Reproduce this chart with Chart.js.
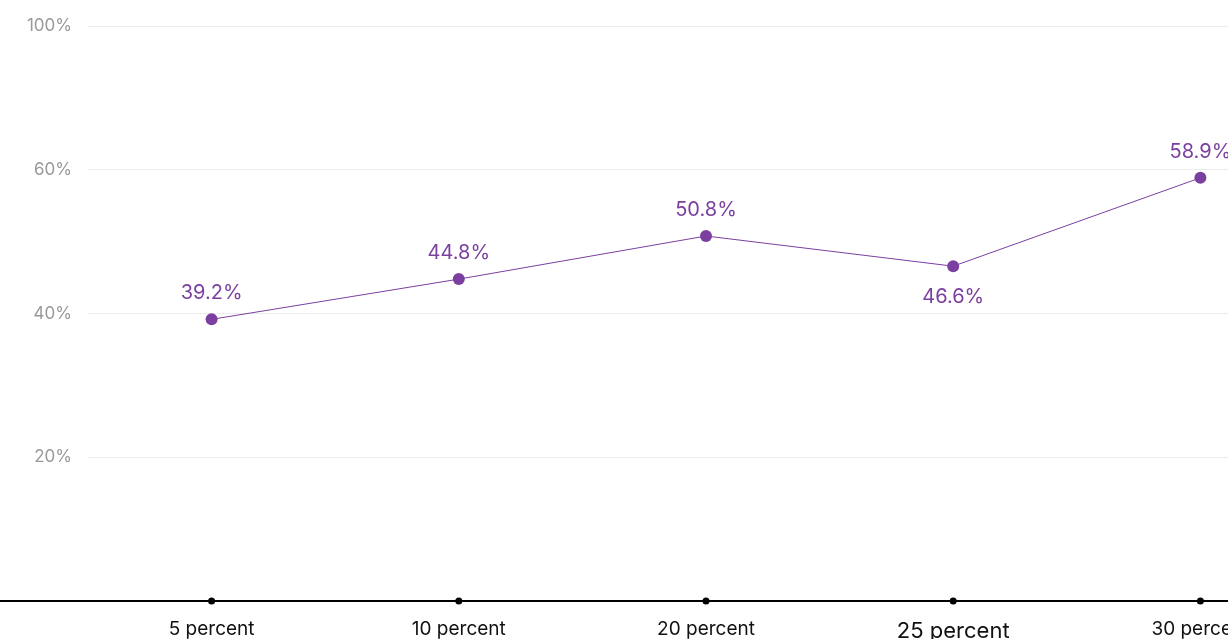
<!DOCTYPE html>
<html>
<head>
<meta charset="utf-8">
<script src="https://cdn.jsdelivr.net/npm/chart.js@4"></script>
<style>
  html, body { margin: 0; padding: 0; background: #fff; overflow: hidden; }
  #wrap { position: relative; width: 1330px; height: 639px; }
</style>
</head>
<body>
<div id="wrap"><canvas id="lineChart"></canvas></div>
<script>
// Chart data
const categories = ['5 percent', '10 percent', '20 percent', '25 percent', '30 percent'];
const shareValues = [39.2, 44.8, 50.8, 46.6, 58.9];
const axisDots = [0, 0, 0, 0, 0];
const yTickValues = [20, 40, 60, 80];
const yTickLabels = ['20%', '40%', '60%', '100%'];
const labelBelow = [false, false, false, true, false];

const purple = '#7b3f9f';

// Labels over each point
const valueLabels = {
    id: 'valueLabels',
    afterDatasetsDraw(chart) {
        const ctx = chart.ctx;
        const meta = chart.getDatasetMeta(0);
        ctx.save();
        ctx.font = '20px Inter, sans-serif';
        ctx.fillStyle = purple;
        ctx.textAlign = 'center';
        ctx.textBaseline = 'middle';
        meta.data.forEach((pt, i) => {
            const dy = labelBelow[i] ? 31 : -26;
            ctx.fillText(shareValues[i].toFixed(1) + '%', pt.x, pt.y + dy);
        });
        ctx.restore();
    }
};

// Black baseline across the whole width
const baseLine = {
    id: 'baseLine',
    beforeDatasetsDraw(chart) {
        const ctx = chart.ctx;
        const y = chart.scales.y.getPixelForValue(0);
        ctx.save();
        ctx.strokeStyle = '#000';
        ctx.lineWidth = 2;
        ctx.beginPath();
        ctx.moveTo(0, y);
        ctx.lineTo(chart.width, y);
        ctx.stroke();
        ctx.restore();
    }
};

const ctx = document.getElementById('lineChart').getContext('2d');
new Chart(ctx, {
    type: 'line',
    data: {
        labels: categories,
        datasets: [{
            data: shareValues,
            borderColor: purple,
            backgroundColor: purple,
            borderWidth: 1,
            pointRadius: 6,
            pointHoverRadius: 6,
            pointBorderWidth: 0,
            tension: 0
        }, {
            data: axisDots,
            showLine: false,
            backgroundColor: '#000',
            borderColor: '#000',
            pointRadius: 3.5,
            pointBorderWidth: 0,
            clip: false
        }]
    },
    options: {
        responsive: true,
        maintainAspectRatio: false,
        animation: false,
        layout: { padding: { top: 25, left: 0, right: 0, bottom: 0 } },
        plugins: {
            legend: { display: false },
            tooltip: { enabled: false }
        },
        scales: {
            x: {
                offset: true,
                grid: { display: false, drawTicks: false },
                border: { display: false },
                ticks: {
                    color: '#111',
                    padding: 17,
                    maxRotation: 0,
                    font: (c) => ({ family: 'Inter, sans-serif', size: c.index === 3 ? 22 : 19 })
                },
                afterFit(scale) { scale.height = 38; }
            },
            y: {
                min: 0,
                max: 80,
                afterBuildTicks(scale) {
                    scale.ticks = yTickValues.map(v => ({ value: v }));
                },
                grid: { color: '#ebebeb', drawTicks: false, lineWidth: 1 },
                border: { display: false },
                ticks: {
                    color: '#999',
                    padding: 16,
                    font: { family: 'Inter, sans-serif', size: 17 },
                    callback: (v) => yTickLabels[yTickValues.indexOf(v)]
                },
                afterFit(scale) { scale.width = 88; }
            }
        }
    },
    plugins: [baseLine, valueLabels]
});
</script>
</body>
</html>
